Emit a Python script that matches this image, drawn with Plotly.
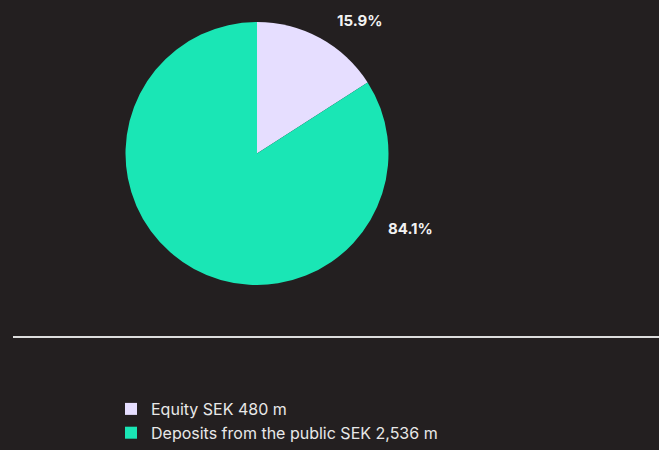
import plotly.graph_objects as go

categories = ["Equity SEK 480 m", "Deposits from the public SEK 2,536 m"]
values = [480, 2536]
colors = ["#E6DEFF", "#1AE6B5"]

BG = "#231F20"
W, H = 659, 450

total = sum(values)
pct_labels = [f"{v / total * 100:.1f}%" for v in values]

fig = go.Figure()
fig.add_trace(go.Pie(
    labels=categories,
    values=values,
    marker=dict(colors=colors, line=dict(width=0)),
    sort=False,
    direction="clockwise",
    rotation=0,
    textinfo="none",
    hoverinfo="label+percent",
    domain=dict(x=[(257 - 131.5) / W, (257 + 131.5) / W],
                y=[1 - 285 / H, 1 - 22 / H]),
))

# percentage labels placed beside their slices
label_pos = [(360.5 / W, 1 - 21 / H), (410.5 / W, 1 - 228 / H)]
for txt, (x, y) in zip(pct_labels, label_pos):
    fig.add_annotation(x=x, y=y, xref="paper", yref="paper", text=f"<b>{txt}</b>",
                       showarrow=False, xanchor="center", yanchor="middle",
                       font=dict(family="Inter", size=15, color="#F2F2F2"))

fig.add_shape(type="line", xref="paper", yref="paper",
              x0=13 / W, x1=1, y0=1 - 337 / H, y1=1 - 337 / H,
              line=dict(color="#DCDCDC", width=2))

fig.update_layout(
    width=W, height=H,
    margin=dict(l=0, r=0, t=0, b=0),
    paper_bgcolor=BG, plot_bgcolor=BG,
    font=dict(family="Inter", color="#E8E8E8"),
    showlegend=True,
    legend=dict(x=111 / W, xanchor="left", y=0, yanchor="bottom",
                orientation="v", bgcolor="rgba(0,0,0,0)",
                font=dict(family="Inter", size=16, color="#E8E8E8"),
                itemclick=False, itemdoubleclick=False),
)

post = """
var gd = document.getElementById('{plot_id}');
document.documentElement.style.margin = '0';
document.body.style.margin = '0';
document.documentElement.style.overflow = 'hidden';
document.body.style.overflow = 'hidden';
document.documentElement.style.background = '#231F20';
document.body.style.background = '#231F20';
gd.style.position = 'absolute';
gd.style.left = '0px';
gd.style.top = '0px';
"""

fig.write_html("out.html", config={"displayModeBar": False}, post_script=post)
